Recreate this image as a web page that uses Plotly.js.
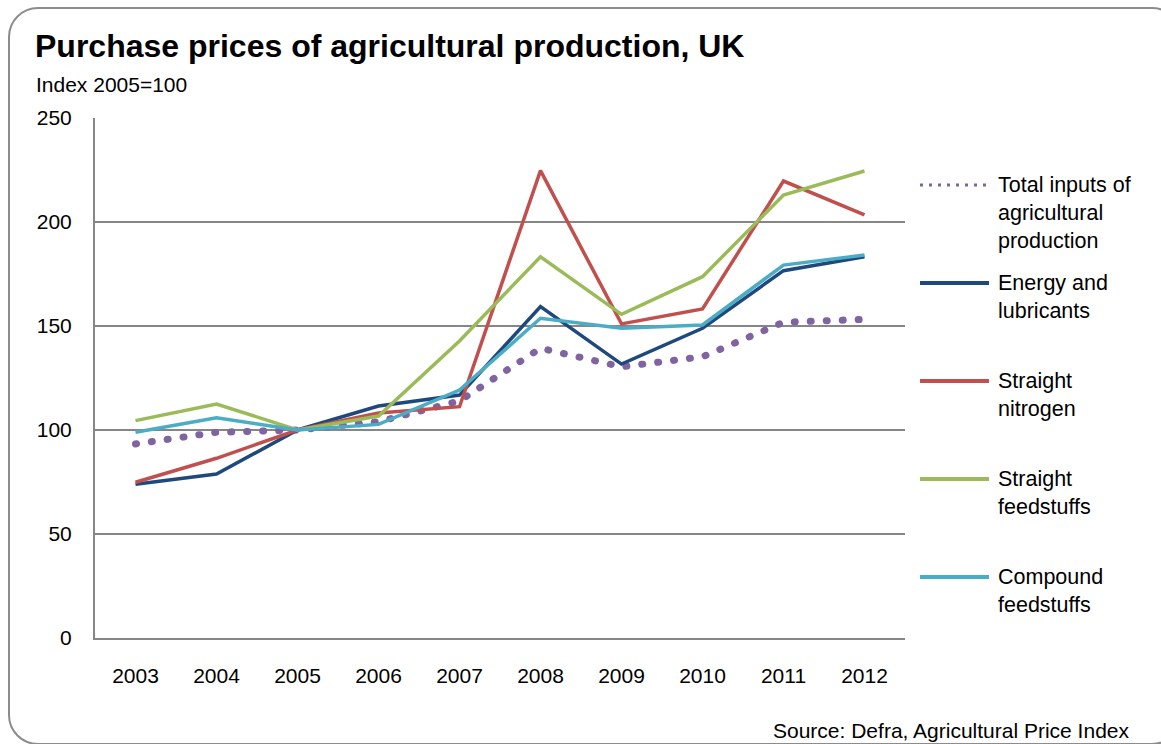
<!DOCTYPE html>
<html>
<head>
<meta charset="utf-8">
<script src="https://cdn.plot.ly/plotly-3.0.1.min.js"></script>
<style>
  html, body { margin: 0; padding: 0; background: #ffffff; }
  #wrap { position: relative; width: 1161px; height: 744px; overflow: hidden; }
  #chart { position: absolute; left: 0; top: 0; width: 1161px; height: 744px; }
  #frame { position: absolute; left: 8px; top: 7px; width: 1170px; height: 734px;
           border: 2px solid #8c8c8c; border-radius: 30px; pointer-events: none; }
  .scatterlayer .trace:first-child .js-line { stroke-linecap: round; }
</style>
</head>
<body>
<div id="wrap">
  <div id="chart"></div>
  <div id="frame"></div>
</div>
<script>
// ---- Data (Index 2005=100) ----
const years = ['2003','2004','2005','2006','2007','2008','2009','2010','2011','2012'];
const totalInputs   = [93.3, 98.9, 100, 104.0, 114.0, 139.3, 130.4, 135.2, 151.8, 153.2];
const energy        = [73.9, 78.8, 100, 111.5, 116.8, 159.3, 131.7, 148.9, 176.6, 183.3];
const nitrogen      = [74.9, 86.4, 100, 108.2, 111.2, 224.7, 151.0, 158.2, 219.7, 203.4];
const feedstuffs    = [104.5, 112.5, 100, 106.7, 142.8, 183.3, 155.6, 173.7, 213.0, 224.5];
const compound      = [98.9, 105.9, 100, 102.7, 119.2, 153.7, 148.9, 150.5, 179.3, 184.1];

const seriesNames = ['Total inputs of<br>agricultural<br>production', 'Energy and<br>lubricants',
                     'Straight<br>nitrogen', 'Straight<br>feedstuffs', 'Compound<br>feedstuffs'];
const seriesValues = [totalInputs, energy, nitrogen, feedstuffs, compound];
const seriesColors = ['#8064A2', '#1F497D', '#C0504D', '#9BBB59', '#4BACC6'];
const yTicks = [0, 50, 100, 150, 200, 250];

const FONT = 'Liberation Sans, Arial, sans-serif';

// plot-area geometry (pixels)
const L = 95, R = 256, T = 118, B = 106, W = 1161, H = 744;
const PW = W - L - R, PH = H - T - B;
const px2x = p => (p - L) / PW;
const py2y = p => (H - B - p) / PH;

const traces = seriesValues.map((vals, i) => ({
  type: 'scatter', mode: 'lines', x: years, y: vals,
  name: seriesNames[i].replace(/<br>/g, ' '),
  line: i === 0 ? { color: seriesColors[i], width: 7, dash: '1px,15px' }
                : { color: seriesColors[i], width: 3.5 },
  hoverinfo: 'x+y+name', showlegend: false
}));

// custom legend
const legendFirstLine = [185, 283, 381, 479, 577];
const lineH = 28;
const shapes = [];
const annotations = [];
seriesNames.forEach((nm, i) => {
  const n = nm.split('<br>').length;
  const y0 = legendFirstLine[i];
  shapes.push({
    type: 'line', xref: 'paper', yref: 'paper',
    x0: px2x(920), x1: px2x(989), y0: py2y(y0), y1: py2y(y0),
    line: i === 0 ? { color: seriesColors[i], width: 3, dash: '3px,6px' }
                  : { color: seriesColors[i], width: 4 }
  });
  annotations.push({
    xref: 'paper', yref: 'paper', x: px2x(996), y: py2y(y0 + (n - 1) * lineH / 2),
    xanchor: 'left', yanchor: 'middle', align: 'left', showarrow: false,
    text: nm, font: { family: FONT, size: 21.5, color: '#000000' }
  });
});

annotations.push({
  xref: 'paper', yref: 'paper', x: px2x(34), y: py2y(84),
  xanchor: 'left', yanchor: 'middle', showarrow: false,
  text: 'Index 2005=100', font: { family: FONT, size: 21, color: '#000000' }
});
annotations.push({
  xref: 'paper', yref: 'paper', x: px2x(1131), y: py2y(730),
  xanchor: 'right', yanchor: 'middle', showarrow: false,
  text: 'Source: Defra, Agricultural Price Index', font: { family: FONT, size: 21, color: '#000000' }
});

const layout = {
  width: W, height: H,
  margin: { l: L, r: R, t: T, b: B, pad: 0 },
  paper_bgcolor: '#ffffff', plot_bgcolor: '#ffffff',
  title: {
    text: '<b>Purchase prices of agricultural production, UK</b>',
    font: { family: FONT, size: 32, color: '#000000' },
    x: 35 / W, xanchor: 'left', xref: 'container',
    y: 1 - 46 / H, yanchor: 'middle', yref: 'container'
  },
  xaxis: {
    type: 'category', tickvals: years, ticktext: years, range: [-0.5, 9.5],
    showgrid: false, zeroline: false,
    showline: true, linecolor: '#868686', linewidth: 2,
    ticks: '', tickfont: { family: FONT, size: 21, color: '#000000' },
    ticklabelstandoff: 18, fixedrange: true
  },
  yaxis: {
    range: [0, 250], tickvals: yTicks, ticktext: yTicks.map(String),
    showgrid: true, gridcolor: '#868686', gridwidth: 2,
    zeroline: false, showline: true, linecolor: '#868686', linewidth: 2,
    ticks: '', tickfont: { family: FONT, size: 21, color: '#000000' },
    ticklabelstandoff: 17, fixedrange: true
  },
  shapes: shapes,
  annotations: annotations,
  showlegend: false
};

Plotly.newPlot('chart', traces, layout, { displayModeBar: false, staticPlot: true });
</script>
</body>
</html>
